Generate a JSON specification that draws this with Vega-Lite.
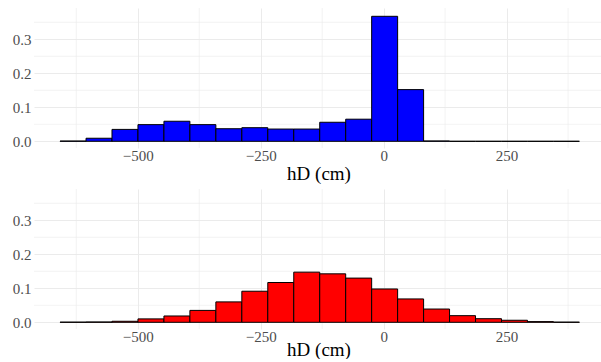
{
  "$schema": "https://vega.github.io/schema/vega-lite/v6.json",
  "autosize": {"type": "pad"},
  "padding": {"left": 12, "top": 7, "right": 0, "bottom": 0},
  "background": "white",
  "config": {
    "view": {"stroke": null},
    "font": "Liberation Serif",
    "concat": {"spacing": 41},
    "axis": {
      "domain": false,
      "ticks": false,
      "labelFont": "Liberation Serif",
      "labelFontSize": 15,
      "labelColor": "#4d4d4d",
      "titleFont": "Liberation Serif",
      "titleFontSize": 19,
      "titleFontWeight": "normal",
      "titleColor": "black",
      "gridColor": "#ebebeb",
      "gridWidth": 1
    },
    "axisX": {"labelFont": "Liberation Serif", "titleFont": "Liberation Serif"},
    "axisY": {"labelFont": "Liberation Serif"}
  },
  "datasets": {
    "hist": [
      {"panel": "top", "x0": -658.0, "x1": -605.2, "density": 0.0008},
      {"panel": "top", "x0": -605.2, "x1": -552.4, "density": 0.009},
      {"panel": "top", "x0": -552.4, "x1": -499.6, "density": 0.035},
      {"panel": "top", "x0": -499.6, "x1": -446.8, "density": 0.049},
      {"panel": "top", "x0": -446.8, "x1": -394.0, "density": 0.059},
      {"panel": "top", "x0": -394.0, "x1": -341.2, "density": 0.049},
      {"panel": "top", "x0": -341.2, "x1": -288.4, "density": 0.037},
      {"panel": "top", "x0": -288.4, "x1": -235.6, "density": 0.040},
      {"panel": "top", "x0": -235.6, "x1": -182.8, "density": 0.036},
      {"panel": "top", "x0": -182.8, "x1": -130.0, "density": 0.036},
      {"panel": "top", "x0": -130.0, "x1": -77.2, "density": 0.056},
      {"panel": "top", "x0": -77.2, "x1": -24.4, "density": 0.065},
      {"panel": "top", "x0": -24.4, "x1": 28.4, "density": 0.3676},
      {"panel": "top", "x0": 28.4, "x1": 81.2, "density": 0.152},
      {"panel": "top", "x0": 81.2, "x1": 134.0, "density": 0.001},
      {"panel": "top", "x0": 134.0, "x1": 186.8, "density": 0.0},
      {"panel": "top", "x0": 186.8, "x1": 239.6, "density": 0.0},
      {"panel": "top", "x0": 239.6, "x1": 292.4, "density": 0.0},
      {"panel": "top", "x0": 292.4, "x1": 345.2, "density": 0.0},
      {"panel": "top", "x0": 345.2, "x1": 398.0, "density": 0.0},
      {"panel": "bottom", "x0": -658.0, "x1": -605.2, "density": 0.0005},
      {"panel": "bottom", "x0": -605.2, "x1": -552.4, "density": 0.001},
      {"panel": "bottom", "x0": -552.4, "x1": -499.6, "density": 0.003},
      {"panel": "bottom", "x0": -499.6, "x1": -446.8, "density": 0.010},
      {"panel": "bottom", "x0": -446.8, "x1": -394.0, "density": 0.0186},
      {"panel": "bottom", "x0": -394.0, "x1": -341.2, "density": 0.035},
      {"panel": "bottom", "x0": -341.2, "x1": -288.4, "density": 0.060},
      {"panel": "bottom", "x0": -288.4, "x1": -235.6, "density": 0.0914},
      {"panel": "bottom", "x0": -235.6, "x1": -182.8, "density": 0.117},
      {"panel": "bottom", "x0": -182.8, "x1": -130.0, "density": 0.1475},
      {"panel": "bottom", "x0": -130.0, "x1": -77.2, "density": 0.1425},
      {"panel": "bottom", "x0": -77.2, "x1": -24.4, "density": 0.130},
      {"panel": "bottom", "x0": -24.4, "x1": 28.4, "density": 0.098},
      {"panel": "bottom", "x0": 28.4, "x1": 81.2, "density": 0.0687},
      {"panel": "bottom", "x0": 81.2, "x1": 134.0, "density": 0.039},
      {"panel": "bottom", "x0": 134.0, "x1": 186.8, "density": 0.0195},
      {"panel": "bottom", "x0": 186.8, "x1": 239.6, "density": 0.0106},
      {"panel": "bottom", "x0": 239.6, "x1": 292.4, "density": 0.006},
      {"panel": "bottom", "x0": 292.4, "x1": 345.2, "density": 0.002},
      {"panel": "bottom", "x0": 345.2, "x1": 398.0, "density": 0.0005}
    ],
    "vgrid": [{"g": -625}, {"g": -375}, {"g": -125}, {"g": 125}, {"g": 375}],
    "hgrid": [{"h": 0.05}, {"h": 0.15}, {"h": 0.25}, {"h": 0.35}]
  },
  "bounds": "flush",
  "vconcat": [
    {
      "width": 569,
      "height": 140,
      "layer": [
        {
          "data": {"name": "vgrid"},
          "mark": {"type": "rule", "color": "#ebebeb", "strokeWidth": 0.6},
          "encoding": {"x": {"field": "g", "type": "quantitative"}}
        },
        {
          "data": {"name": "hgrid"},
          "mark": {"type": "rule", "color": "#ebebeb", "strokeWidth": 0.6},
          "encoding": {"y": {"field": "h", "type": "quantitative"}}
        },
        {
          "data": {"name": "hist"},
          "transform": [{"filter": "datum.panel === 'top'"}],
          "mark": {"type": "bar", "fill": "#0000ff", "stroke": "black", "strokeWidth": 1},
          "encoding": {
            "x": {"field": "x0", "type": "quantitative", "scale": {"domain": [-711, 446], "nice": false, "zero": false}, "axis": {"values": [-500, -250, 0, 250], "title": "hD (cm)", "labelFont": "Liberation Serif", "titleFont": "Liberation Serif", "labelPadding": 0, "titlePadding": 1}},
            "x2": {"field": "x1"},
            "y": {"field": "density", "type": "quantitative", "scale": {"domain": [-0.0197, 0.392], "nice": false, "zero": false}, "axis": {"values": [0, 0.1, 0.2, 0.3], "format": ".1f", "title": null, "labelFont": "Liberation Serif", "labelPadding": 3}},
            "y2": {"datum": 0}
          }
        }
      ]
    },
    {
      "width": 569,
      "height": 140,
      "layer": [
        {
          "data": {"name": "vgrid"},
          "mark": {"type": "rule", "color": "#ebebeb", "strokeWidth": 0.6},
          "encoding": {"x": {"field": "g", "type": "quantitative"}}
        },
        {
          "data": {"name": "hgrid"},
          "mark": {"type": "rule", "color": "#ebebeb", "strokeWidth": 0.6},
          "encoding": {"y": {"field": "h", "type": "quantitative"}}
        },
        {
          "data": {"name": "hist"},
          "transform": [{"filter": "datum.panel === 'bottom'"}],
          "mark": {"type": "bar", "fill": "#ff0000", "stroke": "black", "strokeWidth": 1},
          "encoding": {
            "x": {"field": "x0", "type": "quantitative", "scale": {"domain": [-711, 446], "nice": false, "zero": false}, "axis": {"values": [-500, -250, 0, 250], "title": "hD (cm)", "labelFont": "Liberation Serif", "titleFont": "Liberation Serif", "labelPadding": 0, "titlePadding": -4}},
            "x2": {"field": "x1"},
            "y": {"field": "density", "type": "quantitative", "scale": {"domain": [-0.0197, 0.392], "nice": false, "zero": false}, "axis": {"values": [0, 0.1, 0.2, 0.3], "format": ".1f", "title": null, "labelFont": "Liberation Serif", "labelPadding": 3}},
            "y2": {"datum": 0}
          }
        }
      ]
    }
  ]
}
